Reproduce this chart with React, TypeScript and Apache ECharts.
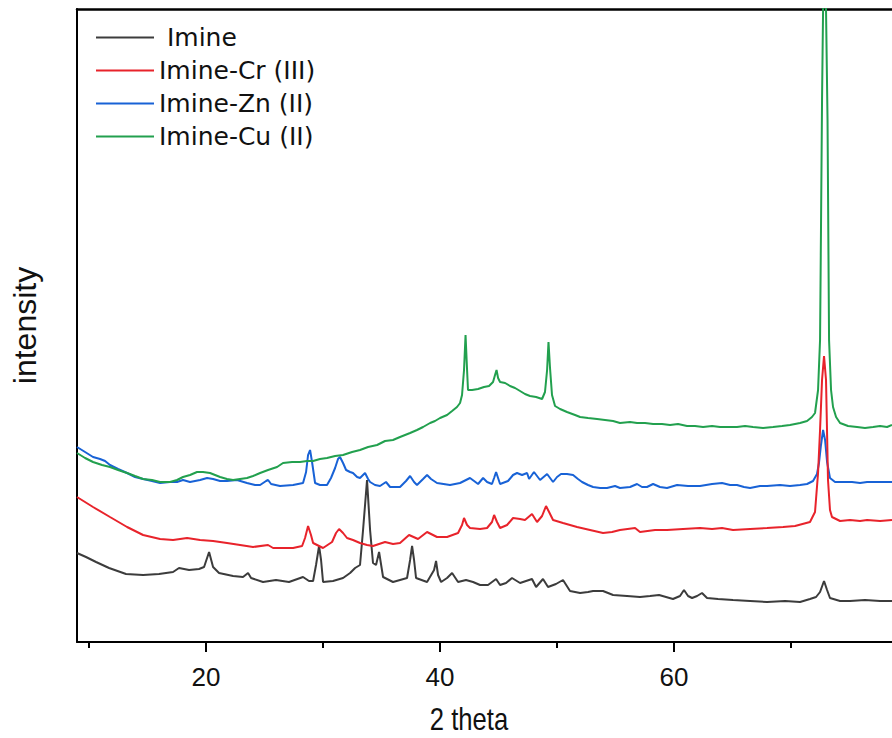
import React, { useEffect, useRef } from "react";
import * as echarts from "echarts";

// XRD patterns: [2θ (deg), intensity (a.u.)]
const imine: [number, number][] = [
  [8.97, 89], [9.74, 85], [10.6, 80], [11.71, 74], [13.16, 68], [14.62, 67], [15.98, 68],
  [17.18, 70], [17.69, 74], [18.55, 72], [19.4, 73], [19.83, 75], [20.26, 90], [20.6, 75],
  [21.11, 69], [22.31, 66], [23.16, 65], [23.59, 69], [23.85, 64], [24.87, 60], [25.98, 62],
  [27.09, 60], [28.29, 65], [28.8, 61], [29.15, 61], [29.4, 77], [29.66, 96], [29.83, 82],
  [30.0, 60], [30.85, 61], [31.71, 64], [32.31, 69], [32.74, 74], [33.16, 77], [33.42, 112],
  [33.76, 162], [34.02, 112], [34.27, 79], [34.53, 77], [34.79, 90], [35.13, 65], [35.98, 60],
  [37.18, 64], [37.44, 82], [37.61, 96], [37.78, 82], [37.95, 64], [38.89, 60], [39.49, 72],
  [39.66, 81], [39.83, 67], [40.09, 60], [40.6, 64], [41.03, 69], [41.54, 60], [42.22, 62],
  [42.82, 60], [43.42, 57], [44.1, 57], [44.79, 63], [45.13, 57], [45.64, 59], [46.15, 64],
  [46.84, 59], [47.35, 61], [47.86, 63], [48.21, 55], [48.8, 63], [49.23, 55], [49.91, 58],
  [50.51, 62], [51.11, 51], [51.97, 49], [52.65, 50], [53.08, 51], [53.93, 51], [54.79, 47],
  [55.98, 46], [57.09, 45], [57.95, 46], [58.72, 47], [59.91, 43], [60.51, 46], [60.85, 52],
  [61.2, 46], [61.54, 44], [61.97, 46], [62.39, 49], [62.82, 44], [63.76, 43], [65.04, 42],
  [66.5, 41], [67.95, 40], [69.49, 41], [70.77, 40], [71.62, 43], [72.14, 45], [72.48, 50],
  [72.82, 61], [73.08, 52], [73.33, 44], [74.19, 41], [75.04, 41], [76.32, 42], [77.61, 41],
  [78.63, 41],
];

const imineCr: [number, number][] = [
  [8.97, 145], [10.34, 135], [11.79, 125], [13.25, 115], [14.62, 107], [16.07, 103],
  [17.18, 102], [18.38, 104], [19.49, 102], [20.6, 101], [21.79, 99], [22.91, 97], [24.02, 95],
  [25.3, 97], [25.73, 94], [27.44, 94], [28.21, 96], [28.46, 104], [28.72, 116], [28.97, 107],
  [29.15, 99], [30.0, 94], [30.77, 100], [31.11, 109], [31.37, 113], [31.71, 109], [32.05, 104],
  [32.56, 102], [33.16, 99], [33.76, 97], [34.27, 96], [35.3, 100], [35.98, 98], [36.58, 99],
  [37.35, 107], [38.12, 103], [38.89, 110], [39.74, 105], [40.6, 105], [41.54, 109],
  [41.88, 117], [42.05, 124], [42.31, 117], [42.56, 114], [43.42, 113], [44.02, 114],
  [44.44, 120], [44.62, 127], [44.87, 120], [45.13, 114], [45.73, 117], [46.24, 124],
  [46.84, 123], [47.26, 122], [47.86, 128], [48.29, 120], [48.72, 126], [49.06, 136],
  [49.32, 130], [49.66, 122], [50.51, 119], [51.71, 115], [52.82, 112], [53.93, 109],
  [54.7, 110], [55.38, 112], [56.67, 114], [57.09, 110], [58.38, 112], [59.4, 112],
  [60.77, 113], [62.22, 114], [63.25, 113], [64.1, 114], [65.04, 112], [66.5, 113],
  [67.95, 114], [69.32, 115], [70.34, 116], [71.62, 120], [72.05, 130], [72.31, 169],
  [72.48, 212], [72.65, 262], [72.82, 286], [72.99, 262], [73.16, 162], [73.33, 132],
  [73.5, 125], [74.19, 121], [75.04, 122], [75.9, 121], [76.5, 122], [77.61, 121], [78.63, 122],
];

const imineZn: [number, number][] = [
  [8.97, 195], [9.66, 190], [10.34, 185], [10.94, 183], [11.37, 181], [11.79, 177],
  [12.48, 173], [13.25, 169], [13.93, 165], [14.62, 163], [15.38, 161], [16.07, 159],
  [16.92, 160], [17.52, 160], [18.03, 162], [18.63, 160], [19.49, 162], [20.09, 164],
  [20.6, 163], [21.2, 161], [21.79, 161], [22.65, 162], [23.5, 159], [24.19, 157], [24.62, 157],
  [25.13, 161], [25.3, 162], [25.56, 158], [26.32, 156], [27.44, 157], [28.29, 159],
  [28.55, 170], [28.72, 187], [28.89, 192], [29.06, 180], [29.32, 159], [29.74, 157],
  [30.34, 157], [30.68, 164], [31.03, 174], [31.28, 183], [31.45, 185], [31.71, 179],
  [31.97, 172], [32.31, 170], [32.56, 169], [32.91, 165], [33.16, 164], [33.59, 169],
  [33.85, 163], [34.02, 160], [34.44, 157], [34.87, 156], [35.38, 160], [35.73, 155],
  [36.58, 155], [37.09, 161], [37.44, 166], [37.78, 160], [38.03, 157], [38.55, 163],
  [38.89, 167], [39.23, 163], [39.74, 159], [40.85, 157], [41.71, 159], [42.22, 162],
  [42.56, 164], [42.91, 161], [43.25, 158], [43.68, 164], [44.02, 160], [44.44, 158],
  [44.62, 164], [44.79, 170], [44.96, 164], [45.13, 158], [45.81, 161], [46.24, 167],
  [46.58, 169], [47.01, 167], [47.44, 169], [47.61, 163], [48.03, 170], [48.55, 162],
  [49.15, 168], [49.66, 160], [50.0, 165], [50.34, 168], [50.85, 168], [51.37, 167],
  [51.79, 163], [52.14, 160], [52.65, 157], [53.08, 155], [53.68, 154], [54.27, 154],
  [54.96, 156], [55.38, 154], [56.24, 155], [56.84, 158], [57.26, 155], [57.69, 155],
  [58.21, 158], [58.8, 155], [59.4, 154], [60.26, 157], [61.2, 156], [62.22, 156], [63.25, 158],
  [64.1, 159], [64.79, 157], [65.38, 157], [65.98, 155], [66.5, 154], [67.35, 156],
  [67.95, 156], [69.06, 157], [69.91, 156], [70.77, 157], [71.37, 158], [71.88, 161],
  [72.22, 168], [72.39, 179], [72.56, 197], [72.74, 212], [72.91, 202], [73.08, 180],
  [73.33, 164], [73.76, 160], [74.44, 160], [75.21, 160], [75.9, 159], [76.5, 160],
  [77.18, 160], [78.03, 160], [78.63, 160],
];

const imineCu: [number, number][] = [
  [8.97, 189], [9.66, 184], [10.34, 180], [11.11, 177], [11.79, 175], [12.48, 172],
  [13.25, 169], [13.93, 166], [14.62, 163], [15.38, 162], [16.07, 160], [16.92, 160],
  [17.52, 162], [18.03, 165], [18.63, 167], [19.23, 170], [19.74, 170], [20.34, 169],
  [20.77, 167], [21.2, 165], [21.79, 163], [22.31, 162], [22.91, 163], [23.5, 164],
  [24.02, 166], [24.62, 169], [25.3, 172], [26.07, 175], [26.58, 179], [27.35, 180],
  [28.03, 180], [28.63, 181], [29.15, 181], [29.74, 183], [30.34, 184], [31.03, 186],
  [31.71, 187], [32.48, 190], [33.16, 192], [33.85, 195], [34.62, 197], [35.3, 201],
  [35.98, 202], [36.58, 205], [37.01, 207], [37.44, 209], [38.03, 212], [38.55, 215],
  [39.15, 219], [39.57, 221], [40.0, 224], [40.6, 227], [41.03, 231], [41.45, 235],
  [41.71, 239], [41.88, 247], [42.05, 272], [42.18, 307], [42.31, 272], [42.39, 252],
  [42.74, 252], [43.25, 253], [43.76, 255], [44.19, 256], [44.53, 260], [44.7, 267],
  [44.83, 272], [44.96, 264], [45.13, 260], [45.56, 259], [45.98, 256], [46.41, 254],
  [46.84, 251], [47.26, 248], [47.69, 246], [48.21, 245], [48.72, 243], [48.97, 250],
  [49.15, 272], [49.27, 300], [49.4, 274], [49.57, 247], [49.83, 236], [50.26, 233],
  [50.85, 230], [51.54, 227], [51.97, 225], [52.65, 224], [53.42, 223], [54.1, 222],
  [54.79, 221], [55.38, 219], [56.24, 220], [56.84, 219], [57.52, 219], [58.21, 218],
  [58.97, 218], [59.66, 217], [60.34, 218], [61.11, 216], [61.79, 216], [62.48, 215],
  [63.25, 216], [63.93, 215], [64.62, 215], [65.38, 215], [66.07, 216], [66.75, 215],
  [67.61, 214], [68.46, 215], [69.23, 216], [69.91, 217], [70.77, 219], [71.37, 221],
  [71.79, 225], [72.05, 229], [72.31, 252], [72.48, 302], [72.56, 412], [72.65, 542],
  [72.74, 633], [72.86, 682], [72.99, 633], [73.12, 522], [73.25, 302], [73.42, 252],
  [73.59, 235], [73.85, 225], [74.19, 219], [74.87, 216], [75.64, 215], [76.32, 214],
  [77.01, 215], [77.61, 216], [78.21, 215], [78.63, 217],
];

const seriesNames = ["Imine", "Imine-Cr (III)", "Imine-Zn (II)", "Imine-Cu (II)"];
const seriesColors = ["#3c3c3c", "#e8232b", "#1862d6", "#22a04e"];
const majorTicks = [20, 40, 60];
const minorTicks = [10, 30, 50, 70];
const X_MIN = 8.97;
const X_MAX = 78.63;
const Y_MIN = 0;
const Y_MAX = 633;
const X_TITLE = "2 theta";

// plain horizontal stroke used as the legend key
const LEGEND_LINE = "path://M0,0 H58 V2 H0 Z";

export default function App() {
  const ref = useRef<HTMLDivElement>(null);

  useEffect(() => {
    if (!ref.current) return;
    const chart = echarts.init(ref.current, undefined, { renderer: "svg" });
    const dataSets = [imine, imineCr, imineZn, imineCu];
    const drawOrder = [0, 2, 1, 3];

    const baseX = {
      type: "value" as const,
      min: X_MIN,
      max: X_MAX,
      splitLine: { show: false },
    };

    chart.setOption({
      animation: false,
      backgroundColor: "#ffffff",
      grid: { left: 77, right: 0, top: 9, bottom: 96, containLabel: false },
      legend: {
        data: seriesNames,
        orient: "vertical",
        left: 96,
        top: 25,
        padding: 0,
        icon: LEGEND_LINE,
        itemWidth: 58,
        itemHeight: 24,
        itemGap: 8,
        formatter: (name: string) => (name === "Imine" ? " " + name : name),
        textStyle: {
          fontFamily: "DejaVu Sans",
          fontSize: 25,
          lineHeight: 24,
          color: "#111",
        },
      },
      // condensed axis title under the x axis
      graphic: [
        {
          type: "text",
          x: 469,
          y: 719,
          scaleX: 0.8,
          silent: true,
          style: {
            text: X_TITLE,
            fontFamily: "Liberation Sans",
            fontSize: 32,
            fill: "#111",
            align: "center",
            verticalAlign: "middle",
          },
        },
      ],
      xAxis: [
        {
          ...baseX,
          position: "bottom",
          axisLine: { show: true, onZero: false, lineStyle: { color: "#000", width: 2 } },
          axisTick: {
            show: true,
            inside: false,
            length: 10,
            customValues: majorTicks,
            lineStyle: { color: "#000", width: 2 },
          },
          axisLabel: {
            show: true,
            customValues: majorTicks,
            margin: 22,
            fontFamily: "Liberation Sans",
            fontSize: 26,
            color: "#111",
          },
        },
        {
          ...baseX,
          position: "bottom",
          axisLine: { show: false, onZero: false },
          axisTick: {
            show: true,
            inside: false,
            length: 6,
            customValues: minorTicks,
            lineStyle: { color: "#000", width: 2 },
          },
          axisLabel: { show: false },
        },
        {
          ...baseX,
          position: "top",
          axisLine: { show: true, onZero: false, lineStyle: { color: "#000", width: 2.5 } },
          axisTick: { show: false },
          axisLabel: { show: false },
        },
      ],
      yAxis: {
        type: "value",
        min: Y_MIN,
        max: Y_MAX,
        position: "left",
        name: "intensity",
        nameLocation: "middle",
        nameGap: 36,
        nameTextStyle: { fontFamily: "Liberation Sans", fontSize: 32, color: "#111" },
        axisLine: { show: true, onZero: false, lineStyle: { color: "#000", width: 2 } },
        axisTick: { show: false },
        axisLabel: { show: false },
        splitLine: { show: false },
      },
      series: drawOrder.map((i) => ({
        name: seriesNames[i],
        type: "line",
        xAxisIndex: 0,
        yAxisIndex: 0,
        data: dataSets[i],
        symbol: "none",
        showSymbol: false,
        smooth: false,
        clip: true,
        lineStyle: { color: seriesColors[i], width: 2 },
        itemStyle: { color: seriesColors[i] },
        emphasis: { disabled: true },
      })),
    });

    return () => {
      chart.dispose();
    };
  }, []);

  return (
    <div
      ref={ref}
      style={{ position: "fixed", left: 0, top: 0, width: 892, height: 738, background: "#fff" }}
    />
  );
}
